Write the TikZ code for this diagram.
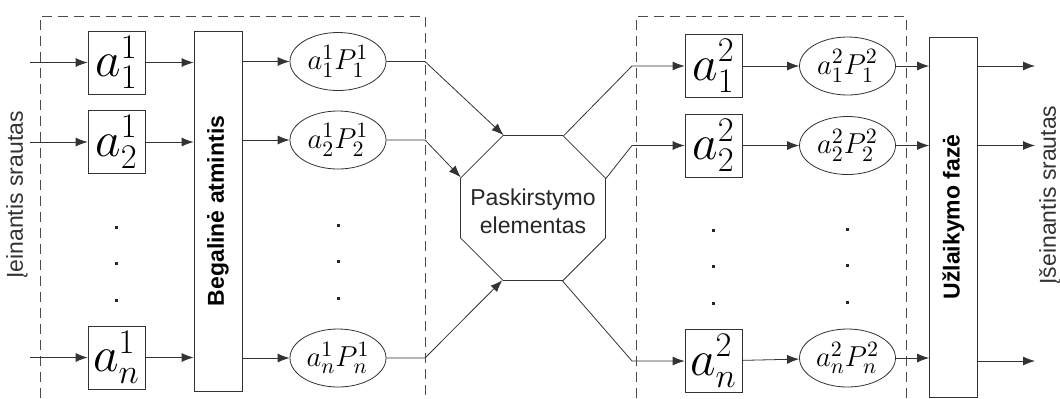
\documentclass[tikz,border=0pt]{standalone}
\usepackage{amsmath}
\usepackage{fontspec}
\setsansfont{Liberation Sans}
\usepackage{tikz}
\usetikzlibrary{shapes.geometric}
\usetikzlibrary{arrows.meta}

\begin{document}
\begin{tikzpicture}[x=0.5pt,y=-0.5pt,>={Latex[length=6pt,width=4.5pt]},auto,
  line/.style={draw=black!80},
  main box/.style={rectangle,draw=black!80,minimum width=28.5pt,minimum height=31.5pt,inner sep=0pt,font=\fontsize{25}{27}\selectfont},
  main ell/.style={ellipse,draw=black!80,minimum width=48pt,minimum height=29pt,inner sep=0pt,font=\fontsize{15.5}{17}\selectfont},
  tall box/.style={rectangle,draw=black!80,minimum width=24pt,minimum height=180pt,inner sep=0pt,font=\sffamily\bfseries\fontsize{11.5}{13.5}\selectfont},
  octa/.style={regular polygon,regular polygon sides=8,minimum size=78.4pt,inner sep=0pt,draw=black!80},
  octa text/.style={align=center,text=black!85,font=\sffamily\fontsize{11.5}{14}\selectfont},
  side label/.style={rotate=90,text=black!80,font=\sffamily\fontsize{11.5}{13.5}\selectfont},
  frame/.style={draw=black!70,dash pattern=on 5pt off 3pt}]

  \useasboundingbox (0,0) rectangle (1060,398);

  \node[main box] (a11) at (116.5,62.5) {$a_1^1$};
  \node[main box] (a21) at (116.5,142) {$a_2^1$};
  \node[main box] (an1) at (116.5,357.5) {$a_n^1$};
  \node[tall box] (mem) at (218,211) {\rotatebox{90}{Begalinė atmintis}};
  \node[main ell] (p11) at (338,61.5) {$a_1^1P_1^1$};
  \node[main ell] (p21) at (338,140) {$a_2^1P_2^1$};
  \node[main ell] (pn1) at (338,358) {$a_n^1P_n^1$};

  \node[octa] (oct) at (533,208) {};
  \node[octa text] (octtxt) at (533,211) {Paskirstymo\\elementas};

  \node[main box] (a12) at (713.5,66) {$a_1^2$};
  \node[main box] (a22) at (713.5,145.5) {$a_2^2$};
  \node[main box] (an2) at (713.5,361) {$a_n^2$};
  \node[main ell] (p12) at (847.5,66) {$a_1^2P_1^2$};
  \node[main ell] (p22) at (847.5,145.5) {$a_2^2P_2^2$};
  \node[main ell] (pn2) at (847.5,358) {$a_n^2P_n^2$};
  \node[tall box] (del) at (953.5,217) {\rotatebox{90}{Užlaikymo fazė}};

  \node[side label] (in) at (17,195) {Įeinantis srautas};
  \node[side label] (out) at (1050,195) {Įšeinantis srautas};

  \coordinate (i1) at (30,62.5);
  \coordinate (i2) at (30,142);
  \coordinate (i3) at (30,357.5);
  \coordinate (k1) at (425,61.5);
  \coordinate (k2) at (425,140);
  \coordinate (k3) at (425,358);
  \coordinate (m1) at (632,66);
  \coordinate (m2) at (632,145.5);
  \coordinate (m3) at (632,361);
  \coordinate (o1) at (1035,66);
  \coordinate (o2) at (1035,145.5);
  \coordinate (o3) at (1035,361);

  \draw[frame] (40,398) |- (425,16) -- (425,398);
  \draw[frame] (636,398) |- (906,16) -- (906,398);

  \path[every edge/.style={line,->}]
    (i1) edge (a11) (i2) edge (a21) (i3) edge (an1)
    (a11) edge (a11 -| mem.west) (a21) edge (a21 -| mem.west) (an1) edge (an1 -| mem.west)
    (p11 -| mem.east) edge (p11) (p21 -| mem.east) edge (p21) (pn1 -| mem.east) edge (pn1);

  \draw[line,->] (p11) -- (k1) -- (oct.112.5);
  \draw[line,->] (p21) -- (k2) -- (oct.157.5);
  \draw[line,->] (pn1) -- (k3) -- (oct.247.5);
  \draw[line,->] (oct.67.5) -- (m1) -- (a12);
  \draw[line,->] (oct.22.5) -- (m2) -- (a22);
  \draw[line,->] (oct.292.5) -- (m3) -- (an2);

  \path[every edge/.style={line,->}]
    (a12) edge (p12) (a22) edge (p22) (an2) edge (pn2)
    (p12) edge (p12 -| del.west) (p22) edge (p22 -| del.west) (pn2) edge (pn2 -| del.west)
    (o1 -| del.east) edge (o1) (o2 -| del.east) edge (o2) (o3 -| del.east) edge (o3);

  \foreach \x/\y in {116/227,338/225,713/230,847/229}
    \foreach \d in {0,36.5,73}
      \fill[black!85] (\x-1.5,\y+\d-1.5) rectangle ++(3,3);

\end{tikzpicture}
\end{document}
